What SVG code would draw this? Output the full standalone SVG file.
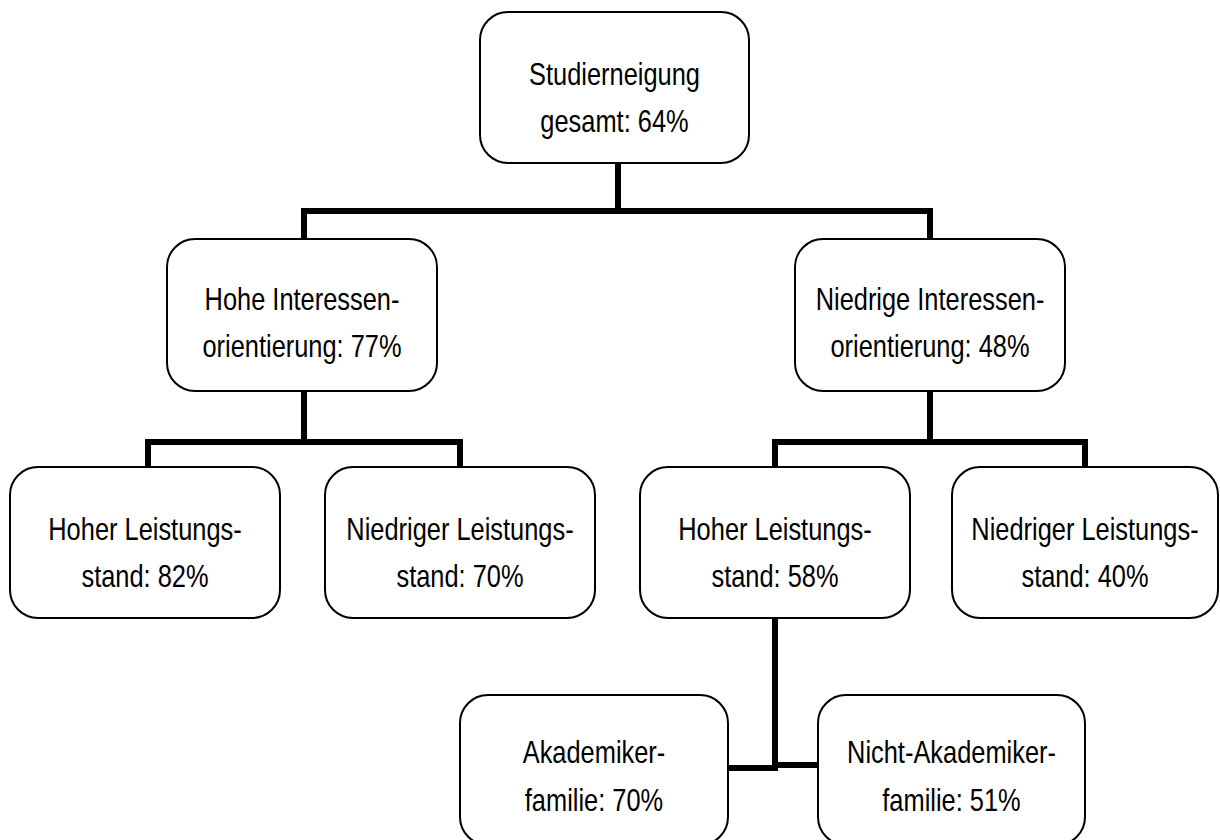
<svg xmlns="http://www.w3.org/2000/svg" width="1220" height="840" viewBox="0 0 1220 840">
<style>
.box{fill:#fff;stroke:#000;stroke-width:2}
.t{font-family:"Liberation Sans",Arial,sans-serif;font-size:31px;fill:#000;text-anchor:middle}
.c{fill:none;stroke:#000;stroke-width:6;stroke-linecap:square;stroke-linejoin:miter}
</style>
<rect width="1220" height="840" fill="#fff"/>
<g id="connectors">
<path class="c" d="M618,163 V211 M304,239 V211 H930 V239"/>
<path class="c" d="M304,391 V442 M148,467 V442 H460 V467"/>
<path class="c" d="M930,391 V442 M775,467 V442 H1085 V467"/>
<path class="c" d="M775,618 V768 M728,768 H775 M775,765 H818"/>
</g>
<g id="n_root">
<rect class="box" x="480" y="12" width="269" height="151" rx="28"/>
<text class="t" transform="translate(614.5,85) scale(0.82,1)">Studierneigung</text>
<text class="t" transform="translate(614.5,132) scale(0.82,1)">gesamt: 64%</text>
</g>
<g id="n_hoheInt">
<rect class="box" x="167" y="239" width="270" height="152" rx="28"/>
<text class="t" transform="translate(302,310) scale(0.82,1)">Hohe Interessen-</text>
<text class="t" transform="translate(302,357) scale(0.82,1)">orientierung: 77%</text>
</g>
<g id="n_niedInt">
<rect class="box" x="795" y="239" width="270" height="152" rx="28"/>
<text class="t" transform="translate(930,310) scale(0.82,1)">Niedrige Interessen-</text>
<text class="t" transform="translate(930,357) scale(0.82,1)">orientierung: 48%</text>
</g>
<g id="n_hh">
<rect class="box" x="10" y="467" width="270" height="151" rx="28"/>
<text class="t" transform="translate(145,540) scale(0.82,1)">Hoher Leistungs-</text>
<text class="t" transform="translate(145,587) scale(0.82,1)">stand: 82%</text>
</g>
<g id="n_hn">
<rect class="box" x="325" y="467" width="270" height="151" rx="28"/>
<text class="t" transform="translate(460,540) scale(0.82,1)">Niedriger Leistungs-</text>
<text class="t" transform="translate(460,587) scale(0.82,1)">stand: 70%</text>
</g>
<g id="n_nh">
<rect class="box" x="640" y="467" width="270" height="151" rx="28"/>
<text class="t" transform="translate(775,540) scale(0.82,1)">Hoher Leistungs-</text>
<text class="t" transform="translate(775,587) scale(0.82,1)">stand: 58%</text>
</g>
<g id="n_nn">
<rect class="box" x="952" y="467" width="266" height="151" rx="28"/>
<text class="t" transform="translate(1085,540) scale(0.82,1)">Niedriger Leistungs-</text>
<text class="t" transform="translate(1085,587) scale(0.82,1)">stand: 40%</text>
</g>
<g id="n_akad">
<rect class="box" x="460" y="695" width="268" height="150" rx="28"/>
<text class="t" transform="translate(594,763) scale(0.82,1)">Akademiker-</text>
<text class="t" transform="translate(594,811) scale(0.82,1)">familie: 70%</text>
</g>
<g id="n_nichtakad">
<rect class="box" x="818" y="695" width="267" height="150" rx="28"/>
<text class="t" transform="translate(951.5,763) scale(0.82,1)">Nicht-Akademiker-</text>
<text class="t" transform="translate(951.5,811) scale(0.82,1)">familie: 51%</text>
</g>
</svg>
